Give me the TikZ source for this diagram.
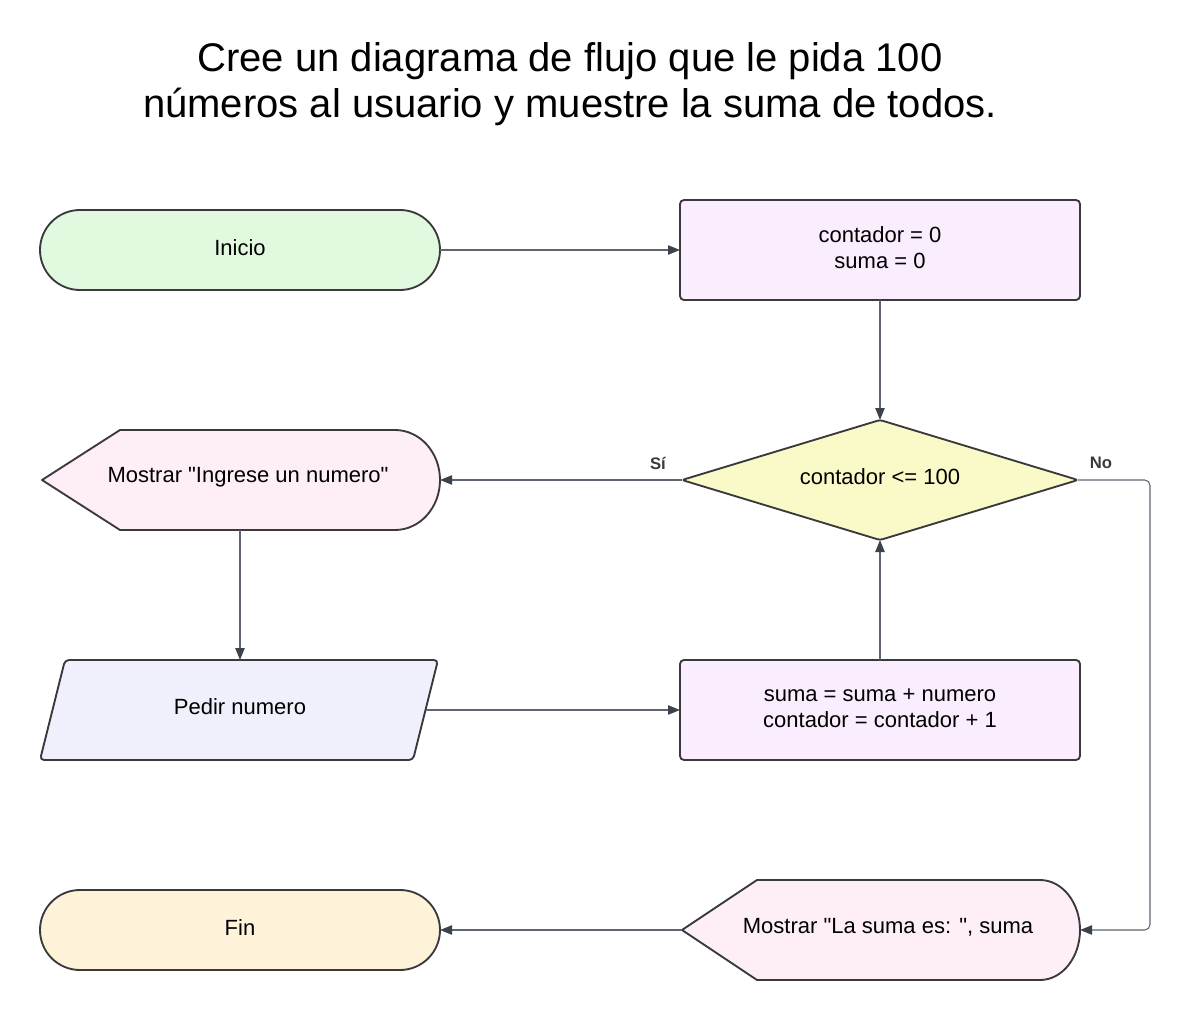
\documentclass[tikz,border=0pt]{standalone}
\usepackage{fontspec}
\setmainfont{Liberation Sans}[Ligatures=TeXOff]
\usetikzlibrary{arrows.meta}
\definecolor{outl}{HTML}{3A3A3C}
\definecolor{connc}{HTML}{5E6470}
\definecolor{tipc}{HTML}{3B424C}
\definecolor{greenf}{HTML}{E1F9DF}
\definecolor{procf}{HTML}{FAEDFD}
\definecolor{decf}{HTML}{FAFAC8}
\definecolor{dispf}{HTML}{FDEEF8}
\definecolor{inpf}{HTML}{EFF0FB}
\definecolor{endf}{HTML}{FEF2D9}
\begin{document}
\begin{tikzpicture}[x=0.75pt,y=-0.75pt,
  shapeline/.style={draw=outl, line width=1.4pt, line join=round},
  conn/.style={draw=connc, line width=0.8pt, -{Triangle[length=9pt,width=7pt,color=tipc]}},
  txt/.style={font=\fontsize{16.5}{19.5}\selectfont, text=black, align=center, inner sep=0pt},
  lbl/.style={font=\fontsize{12.5}{14}\selectfont\bfseries, text=outl, inner sep=0pt}]
\useasboundingbox (0,0) rectangle (1190,1020);

% title
\node[font=\fontsize{30}{35}\selectfont, align=center] (title) at (570,84)
  {Cree un diagrama de flujo que le pida 100\\números al usuario y muestre la suma de todos.};

% shapes
\path[shapeline, fill=greenf, rounded corners=30pt] (40,210) rectangle (440,290);
\path[shapeline, fill=procf, rounded corners=3pt] (680,200) rectangle (1080,300);
\path[shapeline, fill=decf, rounded corners=2pt] (880,420) -- (1078,480) -- (880,540) -- (682,480) -- cycle;
\path[shapeline, fill=dispf] (42,480) -- (120,430) -- (395,430)
  arc[start angle=-90, end angle=90, x radius=45, y radius=50] -- (120,530) -- cycle;
\path[shapeline, fill=inpf, rounded corners=3pt] (65,660) -- (438,660) -- (413,760) -- (40,760) -- cycle;
\path[shapeline, fill=procf, rounded corners=3pt] (680,660) rectangle (1080,760);
\path[shapeline, fill=endf, rounded corners=30pt] (40,890) rectangle (440,970);
\path[shapeline, fill=dispf] (682,930) -- (757,880) -- (1040,880)
  arc[start angle=-90, end angle=90, x radius=40, y radius=50] -- (757,980) -- cycle;

% texts
\node[txt] (inicio) at (240,248) {Inicio};
\node[txt] (init) at (880,248) {contador = 0\\suma = 0};
\node[txt] (cond) at (880,477) {contador <= 100};
\node[txt] (msg1) at (248,477) {Mostrar "Ingrese un numero"};
\node[txt] (pedir) at (240,707) {Pedir numero};
\node[txt] (upd) at (880,708) {suma = suma + numero\\contador = contador + 1};
\node[txt] (fin) at (240,928) {Fin};
\node[txt] (msg2) at (888,927) {Mostrar "La suma es: ", suma};

% anchor coordinates
\coordinate (inicioR) at (440,250);
\coordinate (initL) at (680,250);
\coordinate (initB) at (880,300);
\coordinate (condT) at (880,420);
\coordinate (condL) at (682,480);
\coordinate (condR) at (1078,480);
\coordinate (condB) at (880,540);
\coordinate (msgoneR) at (440,480);
\coordinate (msgoneB) at (240,530);
\coordinate (pedirT) at (240,660);
\coordinate (pedirR) at (426,710);
\coordinate (updL) at (680,710);
\coordinate (updT) at (880,660);
\coordinate (msgtwoR) at (1080,930);
\coordinate (msgtwoL) at (682,930);
\coordinate (finR) at (440,930);
\coordinate (bendA) at (1150,480);
\coordinate (bendB) at (1150,930);

% connectors
\draw[conn] (inicioR) -- (initL);
\draw[conn] (initB) -- (condT);
\draw[conn] (condL) -- (msgoneR);
\draw[conn] (msgoneB) -- (pedirT);
\draw[conn] (pedirR) -- (updL);
\draw[conn] (updT) -- (condB);
\draw[conn, rounded corners=4pt] (condR) -- (bendA) -- (bendB) -- (msgtwoR);
\draw[conn] (msgtwoL) -- (finR);

% labels
\node[lbl] (si) at (658,463) {Sí};
\node[lbl] (no) at (1101,463) {No};
\end{tikzpicture}
\end{document}
